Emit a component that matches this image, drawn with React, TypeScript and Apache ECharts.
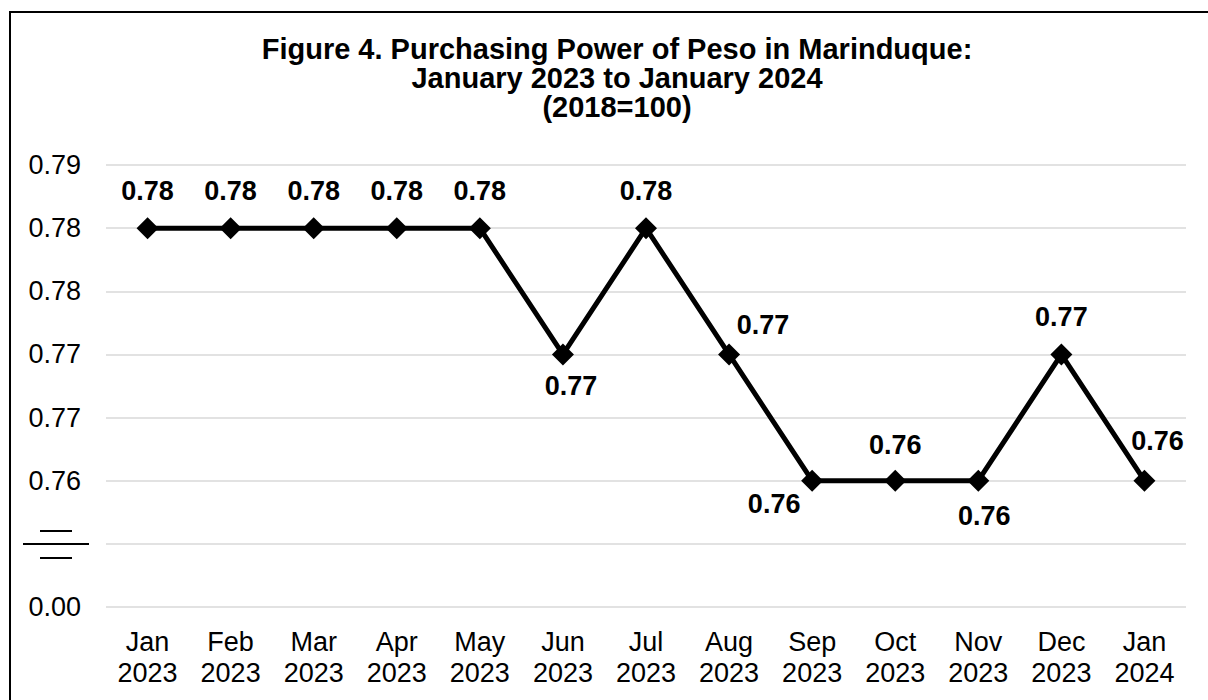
import React, { useEffect, useRef } from "react";
import * as echarts from "echarts";

const categories = [
  "Jan\n2023", "Feb\n2023", "Mar\n2023", "Apr\n2023", "May\n2023", "Jun\n2023", "Jul\n2023",
  "Aug\n2023", "Sep\n2023", "Oct\n2023", "Nov\n2023", "Dec\n2023", "Jan\n2024",
];
const values = [0.785, 0.785, 0.785, 0.785, 0.785, 0.775, 0.785, 0.775, 0.765, 0.765, 0.765, 0.775, 0.765];
const yTickLabels = ["0.00", "", "0.76", "0.77", "0.77", "0.78", "0.78", "0.79"];
const yMin = 0.755;
const yMax = 0.79;
const yStep = 0.005;
// label offsets (dx, dy) relative to marker centre
const labelOffsets: [number, number][] = [
  [0, -37], [0, -37], [0, -37], [0, -37], [0, -37], [8, 32], [0, -37],
  [34, -29], [-38, 23], [0, -36], [6, 35], [0, -37], [13, -40],
];

export default function App() {
  const ref = useRef<HTMLDivElement>(null);
  useEffect(() => {
    document.body.style.margin = "0";
    const chart = echarts.init(ref.current!, undefined, { renderer: "svg" });
    const font = "'Liberation Sans', Arial, sans-serif";
    chart.setOption({
      animation: false,
      backgroundColor: "#ffffff",
      textStyle: { fontFamily: font },
      title: {
        text: "Figure 4. Purchasing Power of Peso in Marinduque:\nJanuary 2023 to January 2024\n(2018=100)",
        left: 612,
        top: 29,
        textAlign: "center",
        textStyle: { fontFamily: font, fontSize: 29, fontWeight: "bold", color: "#000", lineHeight: 29 },
      },
      grid: { left: 106, right: 22, top: 165, bottom: 93, containLabel: false },
      xAxis: {
        type: "category",
        data: categories,
        boundaryGap: true,
        axisLine: { show: false },
        axisTick: { show: false },
        axisLabel: { fontFamily: font, fontSize: 27, color: "#000", lineHeight: 31, margin: 19, interval: 0 },
      },
      yAxis: {
        type: "value",
        min: yMin,
        max: yMax,
        interval: yStep,
        axisLine: { show: false },
        axisTick: { show: false },
        splitLine: { lineStyle: { color: "#d9d9d9", width: 1.5 } },
        axisLabel: {
          fontFamily: font,
          fontSize: 27,
          color: "#000",
          margin: 25,
          formatter: (v: number) => yTickLabels[Math.round((v - yMin) / yStep)] ?? "",
        },
      },
      graphic: [
        { type: "rect", shape: { x: 10, y: 12, width: 1220, height: 720 }, style: { fill: "none", stroke: "#000", lineWidth: 2 }, z: 100 },
        { type: "line", shape: { x1: 40, y1: 531, x2: 72, y2: 531 }, style: { stroke: "#000", lineWidth: 2 } },
        { type: "line", shape: { x1: 23, y1: 544, x2: 89, y2: 544 }, style: { stroke: "#000", lineWidth: 2 } },
        { type: "line", shape: { x1: 40, y1: 558, x2: 72, y2: 558 }, style: { stroke: "#000", lineWidth: 2 } },
      ],
      series: [
        {
          type: "line",
          data: values.map((v, i) => ({
            value: v,
            label: { offset: labelOffsets[i] },
          })),
          symbol: "diamond",
          symbolSize: 22,
          itemStyle: { color: "#000" },
          lineStyle: { color: "#000", width: 5 },
          label: {
            show: true,
            position: "inside",
            fontFamily: font,
            fontSize: 27,
            fontWeight: "bold",
            color: "#000",
            formatter: (p: any) => (Math.floor(p.value * 100 + 1e-6) / 100).toFixed(2),
          },
        },
      ],
    });
    return () => chart.dispose();
  }, []);
  return <div ref={ref} style={{ width: 1208, height: 700 }} />;
}
